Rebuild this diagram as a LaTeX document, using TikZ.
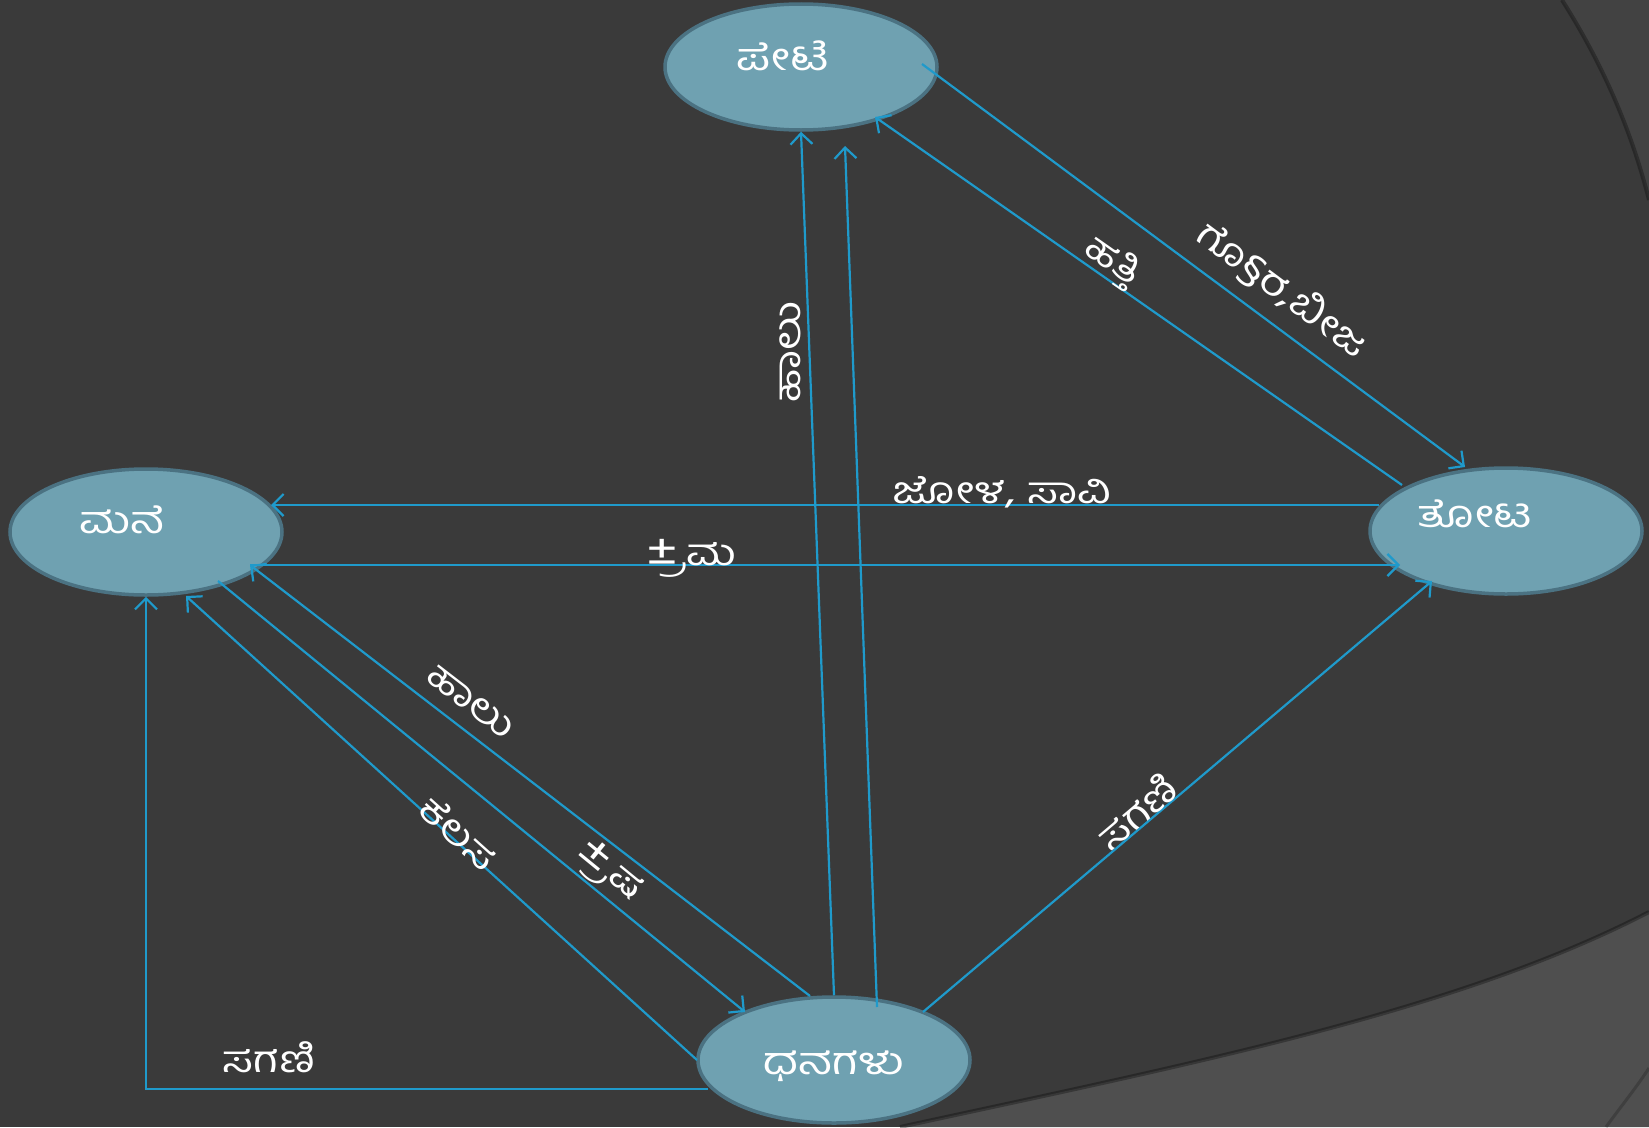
\documentclass[tikz,border=0pt]{standalone}
\usepackage{fontspec}
\newfontfamily\kn[Script=Kannada,FakeStretch=1.25]{Hind Mysuru}
\usetikzlibrary{arrows.meta,shapes.geometric,calc}
\definecolor{bgdark}{HTML}{3A3A3A}
\definecolor{bgmid}{HTML}{424242}
\definecolor{bglight}{HTML}{4F4F4F}
\definecolor{nodefill}{HTML}{6FA1B1}
\definecolor{nodeline}{HTML}{4B7282}
\definecolor{edgeblue}{HTML}{1F9ACB}
\newcommand{\subra}{\char"A0್ರ}
\newcommand{\bigpm}{{\fontsize{46}{46}\selectfont ±}}
\begin{document}
\begin{tikzpicture}[x=1pt,y=-1pt,
  place/.style={ellipse, draw=nodeline, line width=3.5pt, fill=nodefill,
    minimum width=272pt, minimum height=126pt, inner sep=0pt},
  nodetext/.style={text=white, font=\kn\fontsize{38}{44}\selectfont, inner sep=0pt},
  lbl/.style={text=white, font=\kn\fontsize{37}{42}\selectfont, inner sep=0pt},
  flow/.style={draw=edgeblue, line width=2.2pt,
    -{Straight Barb[length=11pt,width=22pt,line width=2.2pt]}}
]
% background
\fill[bgdark] (0,0) rectangle (1649,1127);
\useasboundingbox (0,0) rectangle (1649,1127);
\fill[bgmid] (1562,0) .. controls (1600,60) and (1630,125) .. (1649,200) -- (1649,0) -- cycle;
\draw[black, opacity=0.3, line width=4pt] (1562,0) .. controls (1600,60) and (1630,125) .. (1649,200);
\fill[bglight] (900,1127) .. controls (1200,1062) and (1460,1010) .. (1649,912) -- (1649,1127) -- cycle;
\draw[black, opacity=0.3, line width=4pt] (900,1127) .. controls (1200,1062) and (1460,1010) .. (1649,912);
\draw[black, opacity=0.2, line width=3pt] (1606,1127) .. controls (1622,1105) and (1636,1088) .. (1649,1068);

% places
\node[place] (pete) at (801,67) {};
\node[place] (mane) at (146,532) {};
\node[place] (tota) at (1506,531) {};
\node[place] (dhan) at (834,1060) {};

\node[nodetext, anchor=base] (peteT) at (783,70) {ಪೇಟೆ};
\node[nodetext, anchor=base] (maneT) at (122,533) {ಮನೆ};
\node[nodetext, anchor=base] (totaT) at (1475,527) {ತೋಟ};
\node[nodetext, anchor=base] (dhanT) at (834,1074) {ಧನಗಳು};

% connectors
\draw[flow] ($(pete)+(121,-3)$) -- ($(tota)+(-41,-64)$);
\draw[flow] ($(tota)+(-104,-46)$) -- ($(pete)+(74,50)$);
\draw[flow] ($(tota)+(-127,-26)$) -- ($(mane)+(125,-27)$);
\draw[flow] ($(mane)+(104,33)$) -- ($(tota)+(-106,34)$);
\draw[flow] ($(dhan)+(-24,-64)$) -- ($(mane)+(104,33)$);
\draw[flow] ($(mane)+(72,49)$) -- ($(dhan)+(-89,-48)$);
\draw[flow] ($(dhan)+(-137,0)$) -- ($(mane)+(40,64)$);
\draw[flow] ($(dhan)+(-126,29)$) -| (mane.south);
\draw[flow] (dhan.north) -- (pete.south);
\draw[flow] ($(dhan)+(43,-53)$) -- ($(pete)+(44,79)$);
\draw[flow] ($(dhan)+(89,-48)$) -- ($(tota)+(-74,50)$);

% labels
\node[lbl, rotate=-36.6] (lGob) at (1282,290) {ಗೊ§ರ,ಬೀಜ};
\node[lbl, rotate=-35] (lHatti) at (1112,262) {ಹತ್ತಿ};
\node[lbl, anchor=base] (lJola) at (1002,503) {ಜೋಳ, ಸಾವಿ};
\node[lbl, anchor=base] (lShrama) at (691,565) {\bigpm\kern-7pt\subra ಮ};
\node[lbl, rotate=-37.6] (lHalu) at (471,702) {ಹಾಲು};
\node[lbl, rotate=-42] (lKelasa) at (459,833) {ಕೆಲಸ};
\node[lbl, rotate=-39.3] (lShrama2) at (608,872) {\bigpm\kern-7pt\subra ಷ};
\node[lbl, rotate=40.2] (lSagani) at (1136,811) {ಸಗಣಿ};
\node[lbl, anchor=base] (lSagani2) at (269,1072) {ಸಗಣಿ};
\node[lbl, rotate=90] (lHalu2) at (790,352) {ಹಾಲು};
\end{tikzpicture}
\end{document}
